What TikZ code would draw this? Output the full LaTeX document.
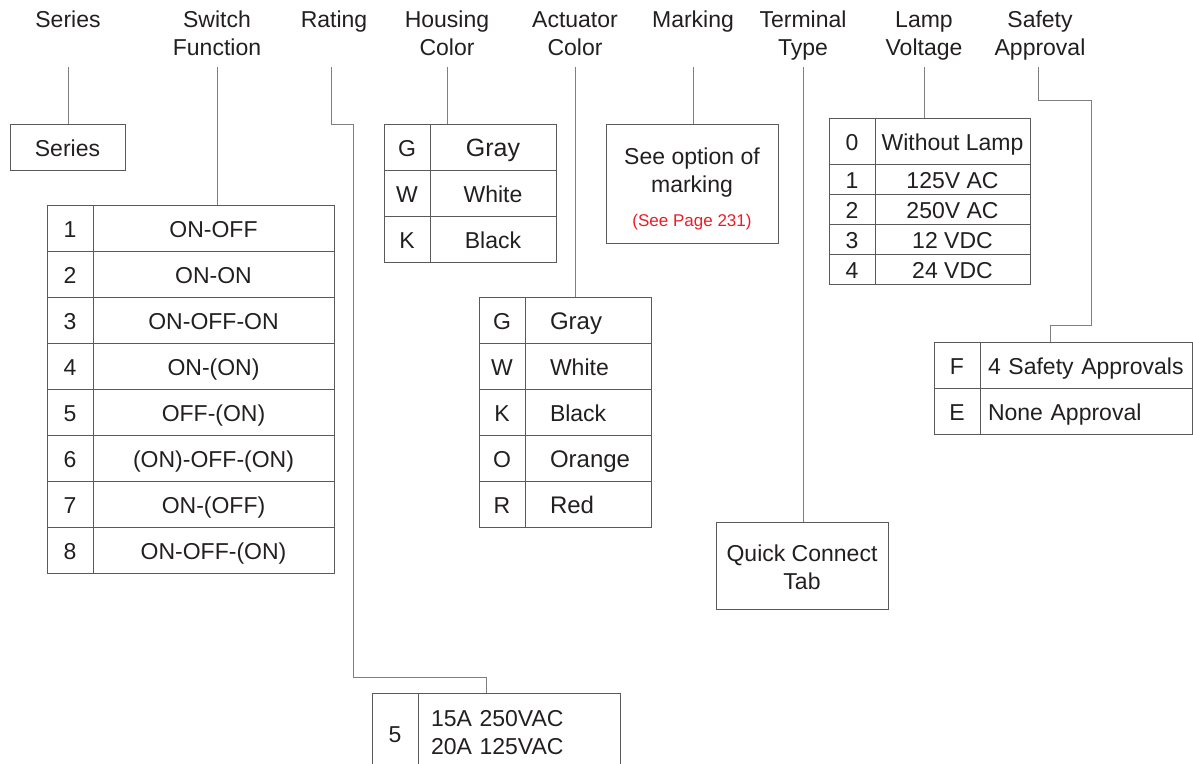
\documentclass[tikz,border=0pt]{standalone}
\usepackage{fontspec}
\setmainfont{Liberation Sans}
\usetikzlibrary{positioning}
\definecolor{boxgray}{HTML}{5A5A5A}
\definecolor{wiregray}{HTML}{7F7F7F}
\definecolor{inkblack}{HTML}{231F20}
\definecolor{pagered}{HTML}{ED1C24}
\tikzset{
  head/.style={anchor=north, align=center, inner sep=0pt, text=inkblack},
  frame/.style={draw=boxgray, rectangle, line width=1pt, inner sep=0pt, outer sep=0pt, text=inkblack},
  cell/.style={frame, minimum height=46pt, text height=18pt, text depth=0pt},
  key/.style={cell, minimum width=46pt},
  swval/.style={cell, minimum width=241pt},
  hsval/.style={cell, minimum width=126pt},
  acval/.style={cell, minimum width=126pt, text width=76pt, inner xsep=25pt, align=left},
  lpkey/.style={key, minimum height=30pt},
  lpval/.style={cell, minimum width=155pt, minimum height=30pt},
  saval/.style={cell, text width=196pt, inner xsep=8pt, align=left},
  wire/.style={draw=wiregray, line width=1pt},
}
\begin{document}
\begin{tikzpicture}[x=1pt, y=-1pt, font=\fontsize{23}{28}\selectfont]
        \useasboundingbox (0,0) rectangle (1193,763);
        % Headers
        \node[head] (h-series) at (68,11) {Series};
        \node[head] (h-switch) at (217,11) {Switch\\Function};
        \node[head] (h-rating) at (334,11) {Rating};
        \node[head] (h-housing) at (447,11) {Housing\\Color};
        \node[head] (h-actuator) at (575,11) {Actuator\\Color};
        \node[head] (h-marking) at (693,11) {Marking};
        \node[head] (h-terminal) at (803,11) {Terminal\\Type};
        \node[head] (h-lamp) at (924,11) {Lamp\\Voltage};
        \node[head] (h-safety) at (1040,11) {Safety\\Approval};
        % Line tops
        \coordinate (series-top) at (68,67);
        \coordinate (sw-top) at (217,67);
        \coordinate (rt-top) at (331,67);
        \coordinate (hs-top) at (447,67);
        \coordinate (ac-top) at (575,67);
        \coordinate (mk-top) at (693,67);
        \coordinate (tt-top) at (803,67);
        \coordinate (lp-top) at (924,67);
        \coordinate (sa-top) at (1038,67);
        % Series
        \node[cell, minimum width=115pt, anchor=north west] (series) at (10,124) {Series};
        % Switch function
        \node[key, anchor=north west] (sw1k) at (47,205) {1};
        \node[swval, right=0pt of sw1k] (sw1v) {ON-OFF};
        \node[key, below=0pt of sw1k] (sw2k) {2};
        \node[swval, right=0pt of sw2k] (sw2v) {ON-ON};
        \node[key, below=0pt of sw2k] (sw3k) {3};
        \node[swval, right=0pt of sw3k] (sw3v) {ON-OFF-ON};
        \node[key, below=0pt of sw3k] (sw4k) {4};
        \node[swval, right=0pt of sw4k] (sw4v) {ON-(ON)};
        \node[key, below=0pt of sw4k] (sw5k) {5};
        \node[swval, right=0pt of sw5k] (sw5v) {OFF-(ON)};
        \node[key, below=0pt of sw5k] (sw6k) {6};
        \node[swval, right=0pt of sw6k] (sw6v) {(ON)-OFF-(ON)};
        \node[key, below=0pt of sw6k] (sw7k) {7};
        \node[swval, right=0pt of sw7k] (sw7v) {ON-(OFF)};
        \node[key, below=0pt of sw7k] (sw8k) {8};
        \node[swval, right=0pt of sw8k] (sw8v) {ON-OFF-(ON)};
        % Rating
        \node[key, minimum height=80pt, anchor=north west] (rt1k) at (372,693) {5};
        \node[frame, minimum width=202pt, minimum height=80pt, text width=176pt, inner xsep=13pt, align=left, right=0pt of rt1k] (rt1v) {15A 250VAC\\20A 125VAC};
        % Housing color
        \node[key, anchor=north west] (hs1k) at (384,124) {G};
        \node[hsval, right=0pt of hs1k] (hs1v) {\fontsize{25}{28}\selectfont Gray};
        \node[key, below=0pt of hs1k] (hs2k) {W};
        \node[hsval, right=0pt of hs2k] (hs2v) {White};
        \node[key, below=0pt of hs2k] (hs3k) {K};
        \node[hsval, right=0pt of hs3k] (hs3v) {Black};
        % Actuator color
        \node[key, anchor=north west] (ac1k) at (479,297) {G};
        \node[acval, right=0pt of ac1k] (ac1v) {\fontsize{24}{28}\selectfont Gray};
        \node[key, below=0pt of ac1k] (ac2k) {W};
        \node[acval, right=0pt of ac2k] (ac2v) {White};
        \node[key, below=0pt of ac2k] (ac3k) {K};
        \node[acval, right=0pt of ac3k] (ac3v) {Black};
        \node[key, below=0pt of ac3k] (ac4k) {O};
        \node[acval, right=0pt of ac4k] (ac4v) {\fontsize{24}{28}\selectfont Orange};
        \node[key, below=0pt of ac4k] (ac5k) {R};
        \node[acval, right=0pt of ac5k] (ac5v) {\fontsize{24}{28}\selectfont Red};
        % Marking
        \node[frame, minimum width=172pt, minimum height=119pt, align=center, anchor=north west] (marking) at (606,124)
            {\rule{0pt}{27pt}See option of\\marking\\[6pt]{\color{pagered}\fontsize{17}{20}\selectfont (See Page 231)}};
        % Terminal type
        \node[frame, minimum width=172pt, minimum height=87pt, align=center, anchor=north west] (terminal) at (716,522)
            {\rule{0pt}{21pt}Quick Connect\\Tab};
        % Lamp voltage
        \node[key, anchor=north west] (lp0k) at (829,118) {0};
        \node[cell, minimum width=155pt, right=0pt of lp0k] (lp0v) {Without Lamp};
        \node[lpkey, below=0pt of lp0k] (lp1k) {1};
        \node[lpval, right=0pt of lp1k] (lp1v) {125V AC};
        \node[lpkey, below=0pt of lp1k] (lp2k) {2};
        \node[lpval, right=0pt of lp2k] (lp2v) {250V AC};
        \node[lpkey, below=0pt of lp2k] (lp3k) {3};
        \node[lpval, right=0pt of lp3k] (lp3v) {12 VDC};
        \node[lpkey, below=0pt of lp3k] (lp4k) {4};
        \node[lpval, right=0pt of lp4k] (lp4v) {24 VDC};
        % Safety approval
        \node[key, anchor=north west] (sa1k) at (934,342) {F};
        \node[saval, right=0pt of sa1k] (sa1v) {4 Safety Approvals};
        \node[key, below=0pt of sa1k] (sa2k) {E};
        \node[saval, right=0pt of sa2k] (sa2v) {None Approval};
        % Bends
        \coordinate (rt-bend1) at (353,124);
        \coordinate (rt-bend2) at (486,677);
        \coordinate (sa-bend1) at (1091,100);
        \coordinate (sa-bend2) at (1050,325);
        % Connectors
        \draw[wire] (series-top) -- (series-top |- series.north);
        \draw[wire] (sw-top) -- (sw-top |- sw1v.north);
        \draw[wire] (rt-top) |- (rt-bend1) |- (rt-bend2) -- (rt-bend2 |- rt1v.north);
        \draw[wire] (hs-top) -- (hs-top |- hs1v.north);
        \draw[wire] (ac-top) -- (ac-top |- ac1v.north);
        \draw[wire] (mk-top) -- (mk-top |- marking.north);
        \draw[wire] (tt-top) -- (tt-top |- terminal.north);
        \draw[wire] (lp-top) -- (lp-top |- lp0v.north);
        \draw[wire] (sa-top) |- (sa-bend1) |- (sa-bend2) -- (sa-bend2 |- sa1v.north);
    \end{tikzpicture}
\end{document}
